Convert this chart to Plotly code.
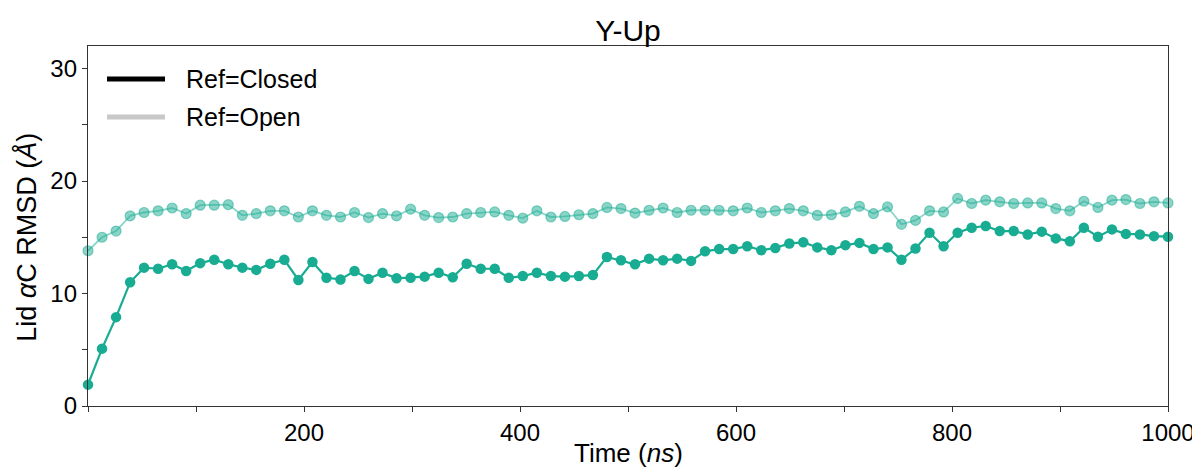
import plotly.graph_objects as go

time_ns = [0.0, 13.0, 26.0, 39.0, 51.9, 64.9, 77.9, 90.9, 103.9, 116.9, 129.9, 142.9, 155.8, 168.8,
           181.8, 194.8, 207.8, 220.8, 233.8, 246.8, 259.7, 272.7, 285.7, 298.7, 311.7, 324.7,
           337.7, 350.6, 363.6, 376.6, 389.6, 402.6, 415.6, 428.6, 441.6, 454.5, 467.5, 480.5,
           493.5, 506.5, 519.5, 532.5, 545.5, 558.4, 571.4, 584.4, 597.4, 610.4, 623.4, 636.4,
           649.4, 662.3, 675.3, 688.3, 701.3, 714.3, 727.3, 740.3, 753.2, 766.2, 779.2, 792.2,
           805.2, 818.2, 831.2, 844.2, 857.1, 870.1, 883.1, 896.1, 909.1, 922.1, 935.1, 948.1,
           961.0, 974.0, 987.0, 1000.0]

rmsd_closed = [1.9, 5.1, 7.9, 11.0, 12.3, 12.2, 12.6, 12.0, 12.7, 13.0, 12.6, 12.3, 12.1, 12.65,
               13.0, 11.2, 12.8, 11.4, 11.25, 12.0, 11.3, 11.85, 11.35, 11.4, 11.5, 11.85,
               11.45, 12.65, 12.2, 12.2, 11.4, 11.55, 11.85, 11.55, 11.5, 11.55, 11.65, 13.25,
               12.95, 12.6, 13.1, 12.95, 13.1, 12.9, 13.75, 13.95, 13.95, 14.2, 13.85, 14.05,
               14.45, 14.55, 14.1, 13.85, 14.3, 14.5, 13.95, 14.1, 13.0, 14.0, 15.4, 14.2,
               15.4, 15.85, 16.0, 15.55, 15.55, 15.25, 15.5, 14.9, 14.65, 15.85, 15.05, 15.7,
               15.3, 15.25, 15.1, 15.05]

rmsd_open = [13.8, 15.0, 15.55, 16.9, 17.2, 17.35, 17.6, 17.1, 17.85, 17.85, 17.9, 16.95, 17.1,
             17.35, 17.35, 16.8, 17.35, 16.95, 16.8, 17.2, 16.75, 17.1, 16.9, 17.5, 16.95,
             16.75, 16.8, 17.1, 17.2, 17.25, 16.95, 16.7, 17.35, 16.8, 16.85, 17.0, 17.1,
             17.65, 17.55, 17.15, 17.4, 17.6, 17.2, 17.4, 17.4, 17.4, 17.35, 17.6, 17.2,
             17.35, 17.55, 17.35, 16.95, 17.0, 17.25, 17.75, 17.1, 17.7, 16.15, 16.5, 17.35,
             17.25, 18.45, 18.0, 18.3, 18.15, 18.0, 18.05, 18.05, 17.55, 17.35, 18.2, 17.65,
             18.3, 18.35, 18.0, 18.15, 18.05]

legend_names = ["Ref=Closed", "Ref=Open"]
legend_colors = ["black", "rgb(200,200,200)"]
x_tick_vals = [200, 400, 600, 800, 1000]
y_tick_vals = [0, 10, 20, 30]

TEAL = "rgb(24,172,146)"
TEAL_A = "rgba(24,172,146,0.5)"
FONT = "Liberation Sans, Arial, sans-serif"

fig = go.Figure()

fig.add_trace(go.Scatter(
    x=time_ns, y=rmsd_open, mode="lines+markers", showlegend=False,
    line=dict(color=TEAL_A, width=1.8),
    marker=dict(color=TEAL_A, size=10, line=dict(color=TEAL_A, width=1.2)),
    cliponaxis=False))
fig.add_trace(go.Scatter(
    x=time_ns, y=rmsd_closed, mode="lines+markers", showlegend=False,
    line=dict(color=TEAL, width=2.2), marker=dict(color=TEAL, size=10.5),
    cliponaxis=False))

# legend drawn as shapes + text in paper coords (long legend handles)
leg_y = [0.908, 0.803]
for name, col, yy in zip(legend_names, legend_colors, leg_y):
    fig.add_shape(type="line", xref="paper", yref="paper", x0=0.0176, x1=0.0713,
                  y0=yy, y1=yy, line=dict(color=col, width=5))
    fig.add_annotation(xref="paper", yref="paper", x=0.0889, y=yy, text=name,
                       showarrow=False, xanchor="left", yanchor="middle",
                       font=dict(family=FONT, size=25, color="black"))

# axis titles as annotations for precise placement
fig.add_annotation(xref="paper", yref="paper", x=-0.0565, y=0.47,
                   text="Lid <i>α</i>C RMSD (<i>Å</i>)", textangle=-90, showarrow=False,
                   xanchor="center", yanchor="middle",
                   font=dict(family=FONT, size=27, color="black"))
fig.add_annotation(xref="paper", yref="paper", x=0.5, y=-0.131,
                   text="Time (<i>ns</i>)", showarrow=False,
                   xanchor="center", yanchor="middle",
                   font=dict(family=FONT, size=26, color="black"))

axis_common = dict(showline=True, linecolor="#333", linewidth=1.4, mirror=True,
                   ticks="outside", ticklen=5, tickcolor="#333", tickwidth=1.2,
                   showgrid=False, zeroline=False, automargin=False,
                   tickfont=dict(family=FONT, size=24, color="black"))

fig.update_layout(
    width=1200, height=470,
    margin=dict(l=80, r=40, t=38, b=72),
    paper_bgcolor="white", plot_bgcolor="white",
    showlegend=False,
    title=dict(text="Y-Up", x=0.5, xref="paper", xanchor="center",
               y=1 - 22 / 470, yanchor="middle",
               font=dict(family=FONT, size=30, color="black")),
    xaxis=dict(range=[0, 1000], tickvals=x_tick_vals, ticklabeloverflow="allow",
               minor=dict(dtick=100, tick0=0, ticks="outside", ticklen=5, tickcolor="#333"),
               **axis_common),
    yaxis=dict(range=[0, 32], tickvals=y_tick_vals,
               minor=dict(dtick=5, tick0=0, ticks="outside", ticklen=5, tickcolor="#333"),
               **axis_common),
)

fig.write_html("out.html")
